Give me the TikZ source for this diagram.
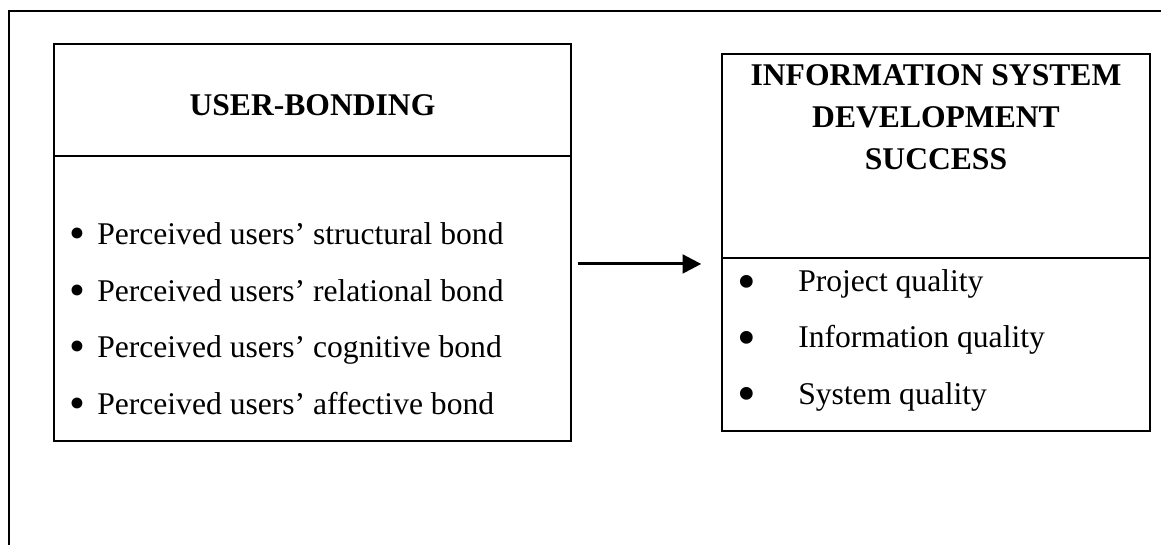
\documentclass[tikz,border=0pt]{standalone}
\usepackage{fontspec}
\setmainfont{Liberation Serif}
\usetikzlibrary{arrows.meta}

\begin{document}
\begin{tikzpicture}[x=0.75pt, y=-0.75pt,
		box/.style={draw, line width=1.1pt, rectangle, inner sep=0pt},
		head/.style={font=\fontsize{23.7}{31.5}\selectfont\bfseries, inner sep=0pt, align=center},
		item/.style={font=\fontsize{23.7}{31.5}\selectfont, inner sep=0pt, anchor=base west},
		dot/.style={font=\fontsize{#1}{#1}\selectfont, inner sep=0pt, anchor=center},
		conn/.style={line width=2.2pt, -{Triangle[length=14pt, width=14pt]}}]
		\useasboundingbox (0,0) rectangle (1161,545);
		
		% Frame
		\draw[line width=1.1pt] (9,545) -- (9,11) -- (1161,11);
		
		% User-bonding box
		\node[box, minimum width=387.75pt, minimum height=297.75pt] (UserBox) at (312.5,242.5) {};
		\coordinate (UserDiv) at (0,156);
		\draw[line width=1.1pt] (UserBox.west |- UserDiv) -- (UserBox.east |- UserDiv);
		\node[head, anchor=base] (UserTitle) at (312.5,116) {USER-BONDING};
		
		\node[dot=34] (BondDot1) at (77,238.5) {•};
		\node[item] (Bond1) at (97,245) {Perceived users’ structural bond};
		\node[dot=34] (BondDot2) at (77,295) {•};
		\node[item] (Bond2) at (97,301.5) {Perceived users’ relational bond};
		\node[dot=34] (BondDot3) at (77,351.5) {•};
		\node[item] (Bond3) at (97,358) {Perceived users’ cognitive bond};
		\node[dot=34] (BondDot4) at (77,408) {•};
		\node[item] (Bond4) at (97,414.5) {Perceived users’ affective bond};
		
		% IS development success box
		\node[box, minimum width=321pt, minimum height=282.75pt] (SuccessBox) at (936,242.5) {};
		\coordinate (SuccessDiv) at (0,258);
		\draw[line width=1.1pt] (SuccessBox.west |- SuccessDiv) -- (SuccessBox.east |- SuccessDiv);
		\node[head, anchor=north] (SuccessTitle) at (936,64) {INFORMATION SYSTEM\\DEVELOPMENT\\SUCCESS};
		
		\node[dot=40] (Dot1) at (747,287.5) {•};
		\node[item] (Quality1) at (798,292) {Project quality};
		\node[dot=40] (Dot2) at (747,343.5) {•};
		\node[item] (Quality2) at (798,348) {Information quality};
		\node[dot=40] (Dot3) at (747,399.5) {•};
		\node[item] (Quality3) at (798,405) {System quality};
		
		% Link
		\draw[conn, shorten <=4.5pt, shorten >=15pt] ([yshift=-16.1pt]UserBox.east) -- ([yshift=-16.1pt]SuccessBox.west);
		
	\end{tikzpicture}
\end{document}
